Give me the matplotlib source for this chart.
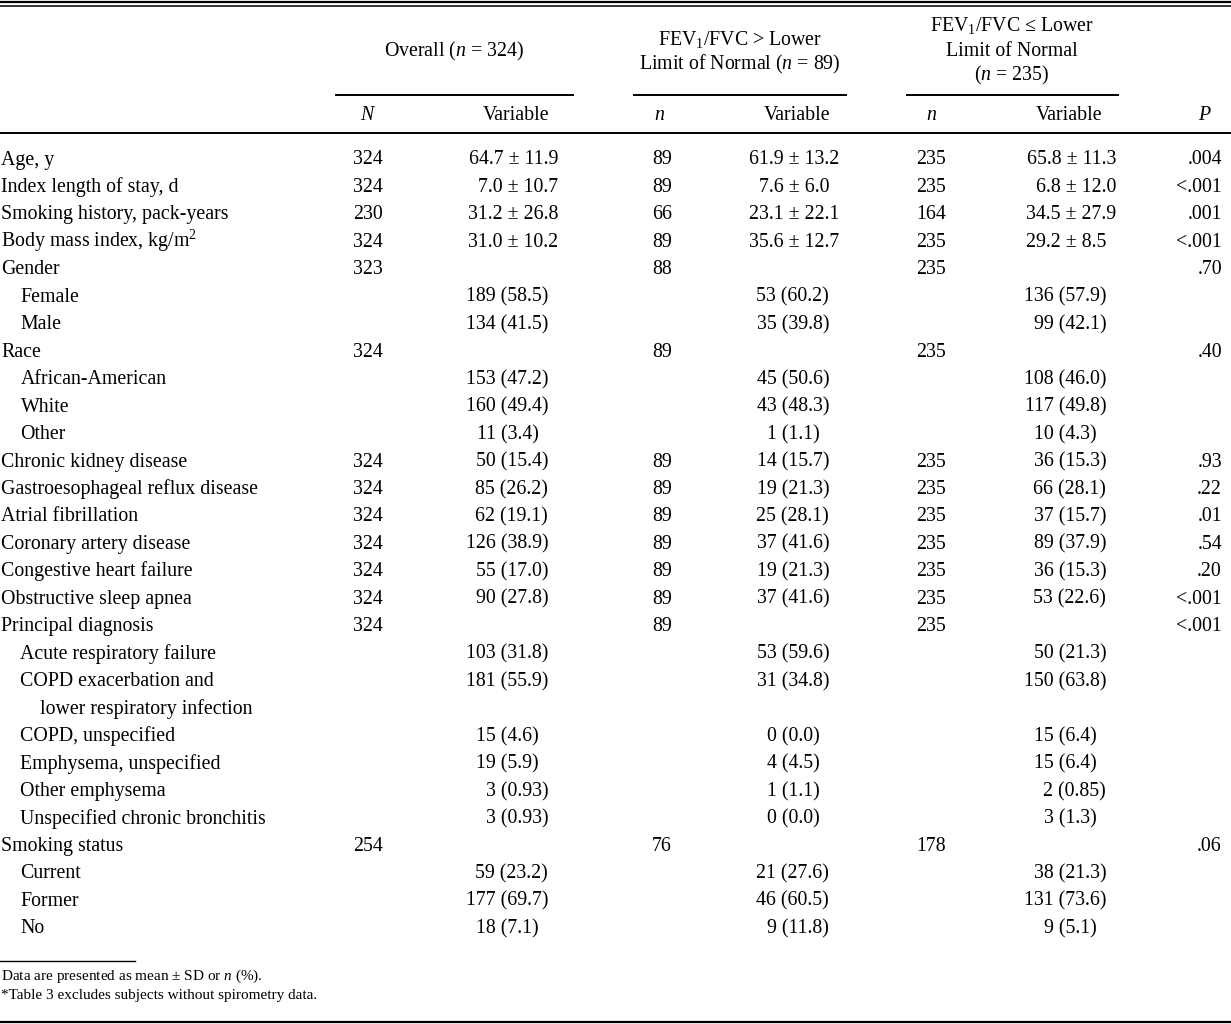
import matplotlib.pyplot as plt

plt.rcParams['font.family'] = ['Liberation Serif', 'DejaVu Serif']
plt.rcParams['mathtext.fontset'] = 'custom'
plt.rcParams['mathtext.rm'] = 'Liberation Serif'
plt.rcParams['mathtext.it'] = 'Liberation Serif:italic'

# row labels and indent level (0 = main, 1 = sub item, 2 = wrapped line)
labels = ["Age, y", "Index length of stay, d", "Smoking history, pack-years",
          "Body mass index, kg/m$^2$", "Gender", "Female", "Male", "Race",
          "African-American", "White", "Other", "Chronic kidney disease",
          "Gastroesophageal reflux disease", "Atrial fibrillation",
          "Coronary artery disease", "Congestive heart failure",
          "Obstructive sleep apnea", "Principal diagnosis",
          "Acute respiratory failure", "COPD exacerbation and",
          "lower respiratory infection", "COPD, unspecified",
          "Emphysema, unspecified", "Other emphysema",
          "Unspecified chronic bronchitis", "Smoking status", "Current",
          "Former", "No"]
indent = [0, 0, 0, 0, 0, 1, 1, 0, 1, 1, 1, 0, 0, 0, 0, 0, 0, 0,
          1, 1, 2, 1, 1, 1, 1, 0, 1, 1, 1]

n_all = ["324", "324", "230", "324", "323", "", "", "324", "", "", "",
         "324", "324", "324", "324", "324", "324", "324", "", "", "", "",
         "", "", "", "254", "", "", ""]
var_all = ["64.7 ± 11.9", "7.0 ± 10.7", "31.2 ± 26.8", "31.0 ± 10.2", "",
           "189 (58.5)", "134 (41.5)", "", "153 (47.2)", "160 (49.4)",
           "11 (3.4)", "50 (15.4)", "85 (26.2)", "62 (19.1)", "126 (38.9)",
           "55 (17.0)", "90 (27.8)", "", "103 (31.8)", "181 (55.9)", "",
           "15 (4.6)", "19 (5.9)", "3 (0.93)", "3 (0.93)", "", "59 (23.2)",
           "177 (69.7)", "18 (7.1)"]

n_gt = ["89", "89", "66", "89", "88", "", "", "89", "", "", "",
        "89", "89", "89", "89", "89", "89", "89", "", "", "", "",
        "", "", "", "76", "", "", ""]
var_gt = ["61.9 ± 13.2", "7.6 ± 6.0", "23.1 ± 22.1", "35.6 ± 12.7", "",
          "53 (60.2)", "35 (39.8)", "", "45 (50.6)", "43 (48.3)", "1 (1.1)",
          "14 (15.7)", "19 (21.3)", "25 (28.1)", "37 (41.6)", "19 (21.3)",
          "37 (41.6)", "", "53 (59.6)", "31 (34.8)", "", "0 (0.0)",
          "4 (4.5)", "1 (1.1)", "0 (0.0)", "", "21 (27.6)", "46 (60.5)",
          "9 (11.8)"]

n_le = ["235", "235", "164", "235", "235", "", "", "235", "", "", "",
        "235", "235", "235", "235", "235", "235", "235", "", "", "", "",
        "", "", "", "178", "", "", ""]
var_le = ["65.8 ± 11.3", "6.8 ± 12.0", "34.5 ± 27.9", "29.2 ± 8.5", "",
          "136 (57.9)", "99 (42.1)", "", "108 (46.0)", "117 (49.8)",
          "10 (4.3)", "36 (15.3)", "66 (28.1)", "37 (15.7)", "89 (37.9)",
          "36 (15.3)", "53 (22.6)", "", "50 (21.3)", "150 (63.8)", "",
          "15 (6.4)", "15 (6.4)", "2 (0.85)", "3 (1.3)", "", "38 (21.3)",
          "131 (73.6)", "9 (5.1)"]

p_vals = [".004", "<.001", ".001", "<.001", ".70", "", "", ".40", "", "", "",
          ".93", ".22", ".01", ".54", ".20", "<.001", "<.001", "", "", "",
          "", "", "", "", ".06", "", "", ""]

footnotes = ["Data are presented as mean ± SD or $n$ (%).",
             "*Table 3 excludes subjects without spirometry data."]

W, H = 1231, 1024
fig = plt.figure(figsize=(W / 100, H / 100), dpi=100)
ax = fig.add_axes([0, 0, 1, 1])
ax.set_xlim(0, W)
ax.set_ylim(H, 0)
ax.axis('off')

fs = 14.3
digit = 9.8  # approx. width of one digit in pixels
base = 6.5   # offset from row centre to text baseline, pixels


def pad(s):
    # tabular alignment: shorter numbers are pushed left by digit widths
    if '±' in s:
        return 4 - len(s.split('±')[1].strip())
    if '(' in s:
        inner = s.split('(')[1].rstrip(')')
        return 1 + (4 - len(inner))
    return 0


def put(x, y, s, ha='left', size=fs):
    ax.text(x, y + base * size / fs, s, fontsize=size, ha=ha, va='baseline')


# rules
ax.plot([0, W], [1.5, 1.5], color='black', lw=1.6)
ax.plot([0, W], [5.8, 5.8], color='black', lw=1.1)
ax.plot([0, W], [133, 133], color='black', lw=1.4)
ax.plot([0, W], [1021.5, 1021.5], color='black', lw=1.6)
for x0, x1 in [(336, 573), (634, 846), (907, 1118)]:
    ax.plot([x0, x1], [95, 95], color='black', lw=1.4)

# header
put(454, 50, "Overall ($n$ = 324)", 'center')
put(740, 38, "FEV$_1$/FVC > Lower", 'center')
put(740, 63, "Limit of Normal ($n$ = 89)", 'center')
put(1012, 24, "FEV$_1$/FVC ≤ Lower", 'center')
put(1012, 49, "Limit of Normal", 'center')
put(1012, 74, "($n$ = 235)", 'center')

sub_y = 113
for x, t in [(368, "$N$"), (516, "Variable"), (660, "$n$"), (797, "Variable"),
             (932, "$n$"), (1069, "Variable"), (1205, "$P$")]:
    put(x, sub_y, t, 'center')

# body
y0, dy = 158, 27.46
n_cols = [(368, n_all), (662, n_gt), (931, n_le)]
var_cols = [(558, var_all), (839, var_gt), (1116, var_le)]
for i, lab in enumerate(labels):
    y = y0 + i * dy
    put(1 + 19.5 * indent[i], y, lab)
    for x, col in n_cols:
        if col[i]:
            put(x, y, col[i], 'center')
    for x, col in var_cols:
        if col[i]:
            put(x - pad(col[i]) * digit, y, col[i], 'right')
    if p_vals[i]:
        put(1222, y, p_vals[i], 'right')

# footnotes
ax.plot([0, 135], [961, 961], color='black', lw=1.0)
for k, t in enumerate(footnotes):
    put(1, 975 + k * 19, t, size=11)

fig.savefig("out.png", dpi=100)
